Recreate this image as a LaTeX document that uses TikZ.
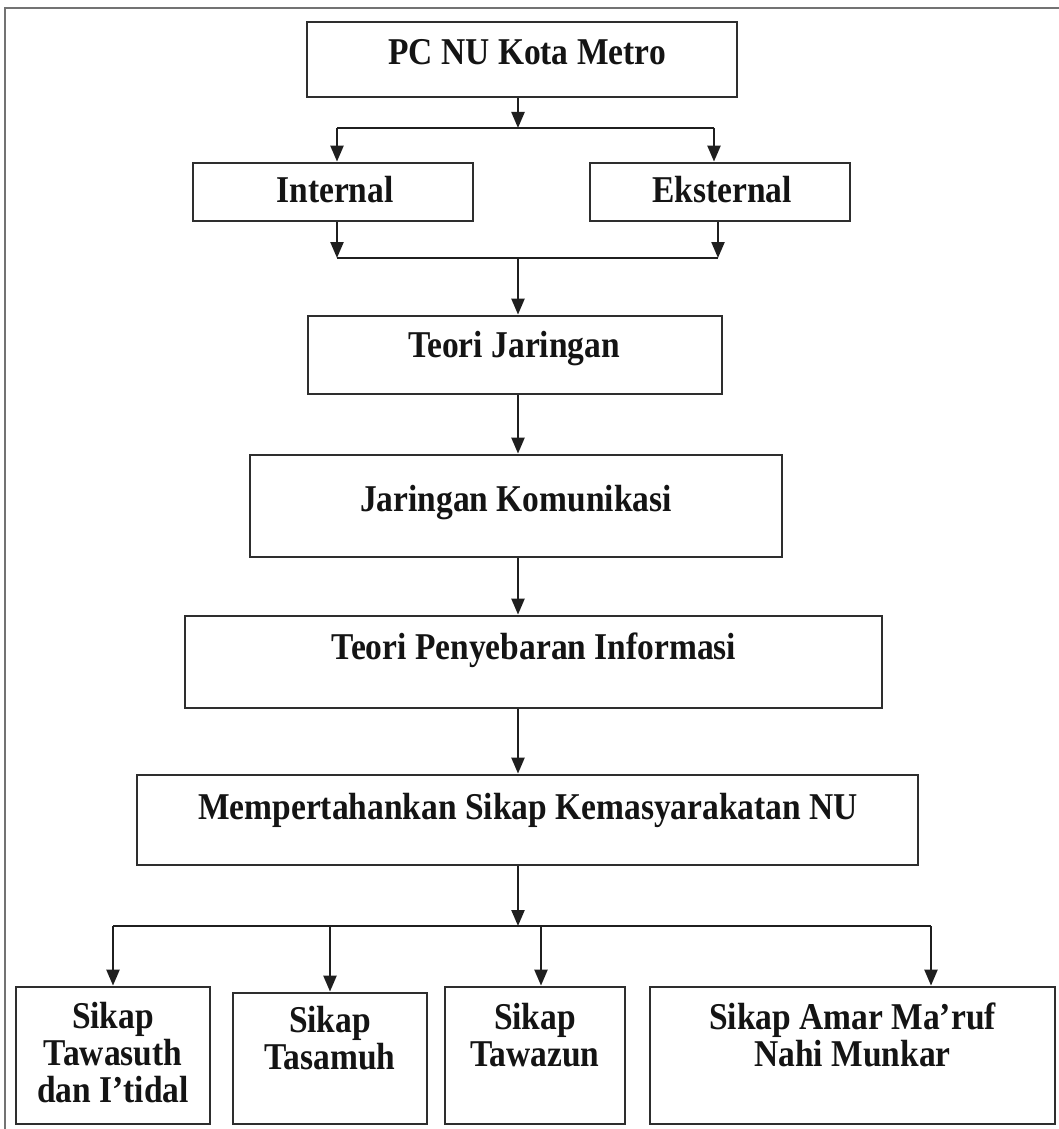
\documentclass[tikz,border=0pt]{standalone}
\usepackage{fontspec}
\setmainfont{Liberation Serif}
\usetikzlibrary{arrows.meta}
\begin{document}
\begin{tikzpicture}[x=1pt,y=-1pt,
  box/.style={draw=black!82, line width=2.8pt, inner sep=0pt},
  txt/.style={font=\fontsize{33.5}{32.5}\selectfont\bfseries, text=black!92, inner sep=0pt, align=center, anchor=base, transform shape, yscale=1.13},
  ln/.style={line width=2.3pt, draw=black!88},
  arr/.style={ln, -{Triangle[length=16pt,width=13pt]}}]
\useasboundingbox (0,0) rectangle (1059,1129);
\draw[black!55, line width=1.2pt] (5,1129) -- (5,8) -- (1059,8);

% boxes
\node[box, minimum width=430pt, minimum height=75pt] (pc) at (522,59.5) {};
\node[box, minimum width=280pt, minimum height=58pt] (int) at (333,192) {};
\node[box, minimum width=260pt, minimum height=58pt] (eks) at (720,192) {};
\node[box, minimum width=414pt, minimum height=78pt] (tj) at (515,355) {};
\node[box, minimum width=532pt, minimum height=102pt] (jk) at (516,506) {};
\node[box, minimum width=697pt, minimum height=92pt] (tp) at (533.5,662) {};
\node[box, minimum width=781pt, minimum height=90pt] (ms) at (527.5,820) {};
\node[box, minimum width=194pt, minimum height=137pt] (b1) at (113,1055.5) {};
\node[box, minimum width=194pt, minimum height=131pt] (b2) at (330,1058.5) {};
\node[box, minimum width=180pt, minimum height=137pt] (b3) at (535,1055.5) {};
\node[box, minimum width=405pt, minimum height=137pt] (b4) at (852.5,1055.5) {};

% texts
\node[txt] (tpc) at (527,65) {PC NU Kota Metro};
\node[txt] (tint) at (335,202) {Internal};
\node[txt] (teks) at (722,202) {Eksternal};
\node[txt] (ttj) at (514,357) {Teori Jaringan};
\node[txt] (tjk) at (516,511) {Jaringan Komunikasi};
\node[txt] (ttp) at (534,659) {Teori Penyebaran Informasi};
\node[txt] (tms) at (528,819) {Mempertahankan Sikap Kemasyarakatan NU};
\node[txt] (tb1) at (113,1102) {Sikap\\Tawasuth\\dan I’tidal};
\node[txt] (tb2) at (330,1069) {Sikap\\Tasamuh};
\node[txt] (tb3) at (535,1066) {Sikap\\Tawazun};
\node[txt] (tb4) at (852.5,1066) {Sikap Amar Ma’ruf\\Nahi Munkar};

% junction coordinates
\coordinate (sp) at (518,0);
\coordinate (j1) at (518,128);
\coordinate (j1l) at (337,128);
\coordinate (j1r) at (714,128);
\coordinate (j2l) at (337,258);
\coordinate (j2r) at (718,258);
\coordinate (j2) at (518,258);
\coordinate (j3) at (518,926);
\coordinate (j3a) at (113,926);
\coordinate (j3b) at (330,926);
\coordinate (j3c) at (541,926);
\coordinate (j3d) at (931,926);

% top split
\draw[arr] (pc.south -| sp) -- (j1);
\draw[ln] (j1l) -- (j1r);
\draw[arr] (j1l) -- (int.north -| j1l);
\draw[arr] (j1r) -- (eks.north -| j1r);
% merge
\draw[arr] (int.south -| j2l) -- (j2l);
\draw[arr] (eks.south -| j2r) -- (j2r);
\draw[ln] (j2l) -- (j2r);
\draw[arr] (j2) -- (tj.north -| sp);
% spine
\draw[arr] (tj.south -| sp) -- (jk.north -| sp);
\draw[arr] (jk.south -| sp) -- (tp.north -| sp);
\draw[arr] (tp.south -| sp) -- (ms.north -| sp);
% bottom split
\draw[arr] (ms.south -| sp) -- (j3);
\draw[ln] (j3a) -- (j3d);
\draw[arr] (j3a) -- (b1.north -| j3a);
\draw[arr] (j3b) -- (b2.north -| j3b);
\draw[arr] (j3c) -- (b3.north -| j3c);
\draw[arr] (j3d) -- (b4.north -| j3d);
\end{tikzpicture}
\end{document}
